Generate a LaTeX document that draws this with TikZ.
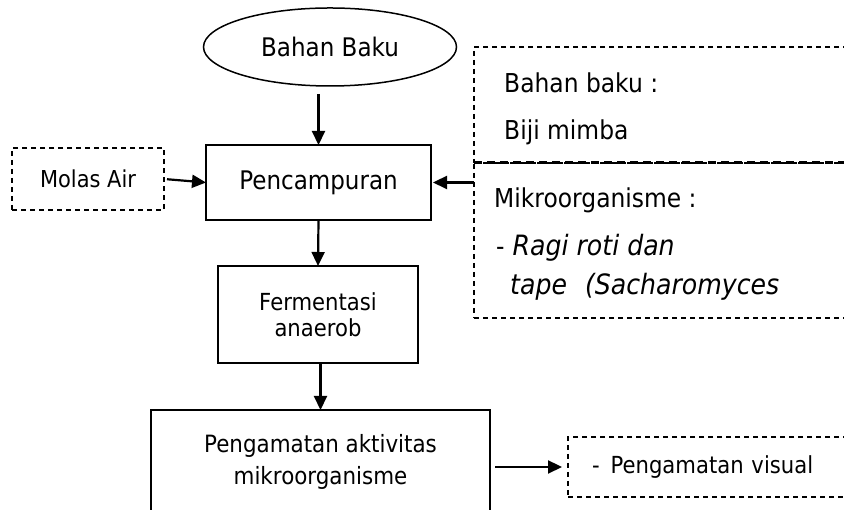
\documentclass[tikz,border=0pt]{standalone}
\usepackage{fontspec}
\setmainfont{DejaVu Sans}[FakeStretch=0.9]
\usetikzlibrary{shapes.geometric,arrows.meta,positioning}
\tikzset{>/.tip={Triangle[length=14pt,width=13pt]}}
\tikzset{proses/.style={draw,line width=1.5pt,outer sep=0pt,inner sep=0pt,align=center}}
\tikzset{ketbox/.style={draw,line width=1.2pt,dash pattern=on 5pt off 4pt,outer sep=0pt,inner sep=0pt}}
\tikzset{kettext/.style={inner sep=0pt,anchor=west,font=\fontsize{26pt}{30pt}\selectfont}}
\tikzset{arr/.style={->,line width=2.2pt}}

\begin{document}
\begin{tikzpicture}[x=1pt,y=1pt]
      \useasboundingbox (0,0) rectangle (844,510);
      \node[proses,ellipse,minimum width=253pt,minimum height=78pt,font=\fontsize{25.6pt}{30pt}\selectfont](bahan) at (330,463){Bahan Baku};
      \node[proses,minimum width=225pt,minimum height=75pt,below=59pt of bahan,xshift=-11.5pt,font=\fontsize{25.6pt}{30pt}\selectfont](campur){Pencampuran};
      \node[proses,minimum width=200pt,minimum height=97pt,below=46pt of campur,xshift=-0.5pt,font=\fontsize{23.5pt}{26pt}\selectfont](ferm){Fermentasi\\anaerob};
      \node[proses,minimum width=339pt,minimum height=104pt,below=47pt of ferm,xshift=2.5pt,font=\fontsize{23.8pt}{32pt}\selectfont](amat){Pengamatan aktivitas\\mikroorganisme};
      \node[ketbox,minimum width=152pt,minimum height=62pt,left=42pt of campur,yshift=3.5pt,font=\fontsize{23.3pt}{27pt}\selectfont](molas){Molas Air};
      \node[ketbox,minimum width=290pt,minimum height=60pt,text width=242pt,inner xsep=24pt,align=left,right=78pt of amat,yshift=-5pt,font=\fontsize{23.5pt}{27pt}\selectfont](visual){-\hspace{11pt}Pengamatan visual};

      % keterangan bahan dan mikroorganisme
      \node[ketbox,minimum width=390pt,minimum height=116pt,anchor=north west](bahanket) at (474,463){};
      \node[ketbox,minimum width=390pt,minimum height=155pt,below=0pt of bahanket](mikroket){};
      \draw[line width=3pt,dash pattern=on 8pt off 5pt] (bahanket.south west) -- (bahanket.south east);
      \node[kettext](bahanbaku) at ([xshift=30pt,yshift=-36pt]bahanket.north west){Bahan baku :};
      \node[kettext](bijimimba) at ([xshift=30pt,yshift=-85pt]bahanket.north west){Biji mimba};
      \node[kettext](mikro) at ([xshift=20pt,yshift=-37pt]mikroket.north west){Mikroorganisme :};
      \node[kettext](ragi) at ([xshift=22pt,yshift=-85pt]mikroket.north west){-\hspace{8pt}{\fontsize{28pt}{30pt}\selectfont\itshape Ragi roti dan}};
      \node[kettext,font=\fontsize{28pt}{30pt}\selectfont\itshape](tape) at ([xshift=36pt,yshift=-124pt]mikroket.north west){tape\hspace{18pt}(Sacharomyces};

      \draw[arr,shorten <=8pt] (bahan.south -| campur.north) -- (campur.north);
      \draw[arr,shorten <=3pt] (molas.east) -- (campur.west);
      \draw[arr,shorten >=2pt] (campur.east -| bahanket.west) -- (campur.east);
      \draw[arr] (campur.south) -- (ferm.north);
      \draw[arr] (amat.north |- ferm.south) -- (amat.north);
      \draw[arr,shorten <=5pt,shorten >=6pt] (amat.east |- visual.west) -- (visual.west);
\end{tikzpicture}
\end{document}
